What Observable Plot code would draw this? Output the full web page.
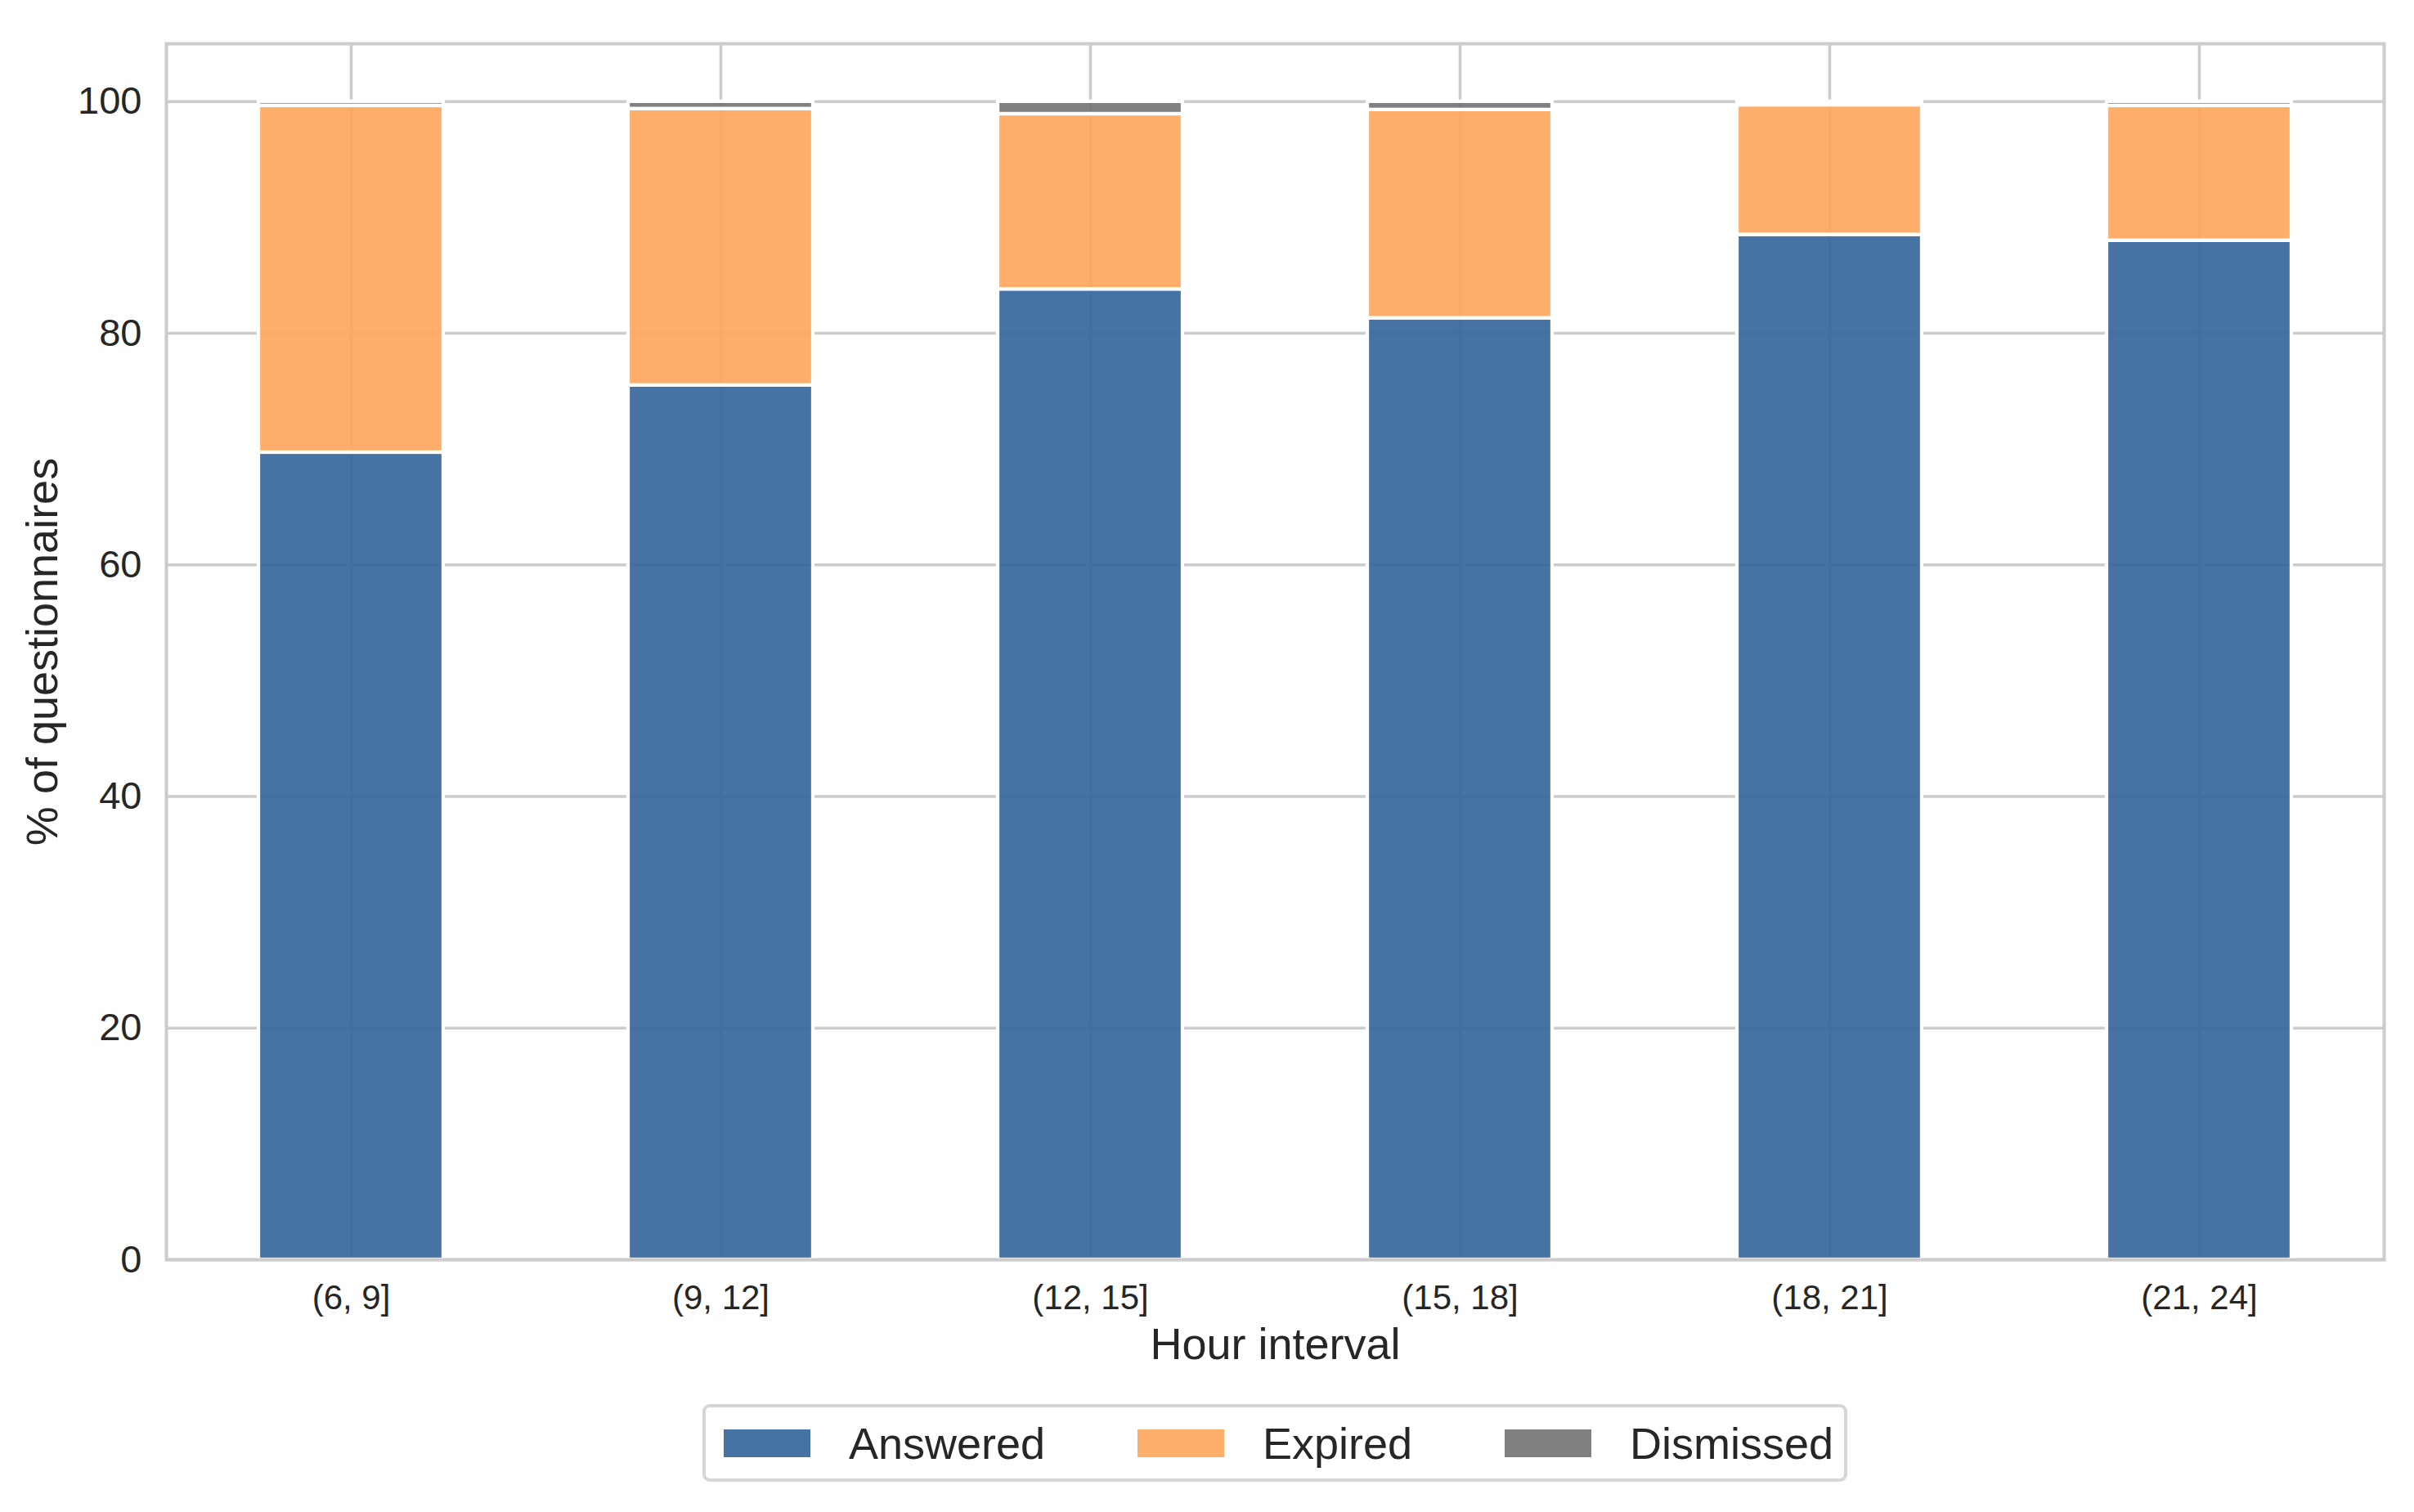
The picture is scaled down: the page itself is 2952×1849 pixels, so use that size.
<!DOCTYPE html>
<html>
<head>
<meta charset="utf-8">
<script src="https://cdn.jsdelivr.net/npm/d3@7"></script>
<script src="https://cdn.jsdelivr.net/npm/@observablehq/plot@0.6"></script>
<style>
  html, body { margin: 0; padding: 0; background: #fff; }
  body { width: 2952px; height: 1849px; position: relative; overflow: hidden;
         font-family: "Liberation Sans", Arial, Helvetica, sans-serif; color: #262626; }
  #chart { position: absolute; left: 0; top: 0; }
  #legend { position: absolute; left: 859px; top: 1717px; width: 1392px; height: 87px;
            border: 4px solid #d6d6d6; border-radius: 9px; box-sizing: content-box;
            font-size: 54px; }
  .item { position: absolute; top: 0; height: 87px; display: flex; align-items: center; }
  .sw { width: 106px; height: 34px; margin-right: 47px; }
</style>
</head>
<body>
<div id="chart"></div>
<div id="legend"></div>
<script>
const intervals = ["(6, 9]", "(9, 12]", "(12, 15]", "(15, 18]", "(18, 21]", "(21, 24]"];
const statuses = ["Answered", "Expired", "Dismissed"];
const answered  = [69.7, 75.5, 83.8, 81.3, 88.5, 88.0];
const expired   = [29.94, 23.87, 15.13, 17.99, 11.2, 11.64];
const dismissed = [0.36, 0.63, 1.07, 0.71, 0.3, 0.36];
const yTicks = [0, 20, 40, 60, 80, 100];
const colors = ["#36679b", "#fea75d", "#757575"];
const legendColors = ["#4673a3", "#fdae6b", "#808080"];

const series = [answered, expired, dismissed];
const rows = [];
intervals.forEach((iv, i) => {
  statuses.forEach((s, j) => rows.push({interval: iv, status: s, value: series[j][i]}));
});

const W = 2952, H = 1700;
const plot = Plot.plot({
  width: W, height: H,
  marginLeft: 203, marginRight: 37, marginTop: 53, marginBottom: 160,
  style: {fontFamily: '"Liberation Sans", Arial, Helvetica, sans-serif', color: "#262626", background: "white"},
  x: {type: "band", domain: intervals, paddingInner: 0.5, paddingOuter: 0.25, axis: null},
  y: {domain: [0, 105], axis: null},
  color: {domain: statuses, range: colors},
  marks: [
    Plot.gridX(intervals, {stroke: "#cccccc", strokeOpacity: 1, strokeWidth: 3.5}),
    Plot.ruleY(yTicks, {stroke: "#cccccc", strokeWidth: 3.5}),
    Plot.barY(rows, Plot.stackY({order: statuses}, {
      x: "interval", y: "value", fill: "status", fillOpacity: 0.92,
      stroke: "white", strokeWidth: 4.3
    })),
    Plot.axisY(yTicks, {tickSize: 0, tickPadding: 30, fontSize: 47, label: null, tickFormat: d => String(d)}),
    Plot.axisX(intervals, {tickSize: 0, tickPadding: 31, fontSize: 42, label: null}),
    Plot.frame({stroke: "#cccccc", strokeWidth: 4}),
    Plot.text(["Hour interval"], {frameAnchor: "bottom", dy: 104, fontSize: 54, lineAnchor: "middle", textAnchor: "middle", fill: "#262626"}),
    Plot.text(["% of questionnaires"], {frameAnchor: "left", dx: -151, rotate: -90, fontSize: 54, lineAnchor: "middle", textAnchor: "middle", fill: "#262626"})
  ]
});
document.getElementById("chart").appendChild(plot);

const legend = document.getElementById("legend");
const swX = [22, 528, 977];
statuses.forEach((s, j) => {
  const item = document.createElement("div");
  item.className = "item";
  item.style.left = swX[j] + "px";
  const sw = document.createElement("div");
  sw.className = "sw";
  sw.style.background = legendColors[j];
  const t = document.createElement("span");
  t.textContent = s;
  item.appendChild(sw);
  item.appendChild(t);
  legend.appendChild(item);
});
</script>
</body>
</html>
